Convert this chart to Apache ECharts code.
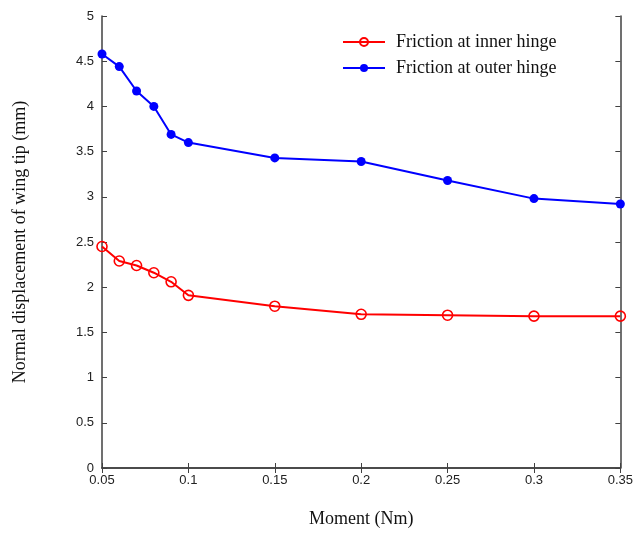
<!DOCTYPE html>
<html>
<head>
<meta charset="utf-8">
<script src="https://cdn.jsdelivr.net/npm/echarts@6/dist/echarts.min.js"></script>
<style>
  html, body { margin: 0; padding: 0; background: #fff; }
  #main { width: 636px; height: 534px; }
</style>
</head>
<body>
<div id="main"></div>
<script>
// 数据
var moments = [0.05, 0.06, 0.07, 0.08, 0.09, 0.1, 0.15, 0.2, 0.25, 0.3, 0.35];
var innerHinge = [2.45, 2.29, 2.24, 2.16, 2.06, 1.91, 1.79, 1.70, 1.69, 1.68, 1.68];
var outerHinge = [4.58, 4.44, 4.17, 4.00, 3.69, 3.60, 3.43, 3.39, 3.18, 2.98, 2.92];
var xTickLabels = ['0.05', '0.1', '0.15', '0.2', '0.25', '0.3', '0.35'];
var yTickLabels = ['0', '0.5', '1', '1.5', '2', '2.5', '3', '3.5', '4', '4.5', '5'];

function pairs(xs, ys) {
  return xs.map(function (x, i) { return [x, ys[i]]; });
}

var axisColor = '#404040';
var tickFont = { color: '#222', fontFamily: 'Liberation Sans', fontSize: 13 };
var serif = 'Liberation Serif';

var myChart = echarts.init(document.getElementById('main'));
myChart.setOption({
  animation: false,
  grid: { left: 102, right: 13, top: 16, bottom: 66 },
  legend: {
    orient: 'vertical',
    left: 337,
    top: 28,
    itemWidth: 42,
    itemHeight: 10,
    itemGap: 8,
    textStyle: { fontFamily: serif, fontSize: 18, color: '#111', padding: [0, 0, 0, 6] },
    data: ['Friction at inner hinge', 'Friction at outer hinge']
  },
  xAxis: [{
    type: 'value',
    min: 0.05,
    max: 0.35,
    interval: 0.05,
    name: 'Moment (Nm)',
    nameLocation: 'middle',
    nameGap: 42,
    nameTextStyle: { fontFamily: serif, fontSize: 18, color: '#111' },
    axisLine: { show: true, lineStyle: { color: axisColor, width: 1.5 } },
    axisTick: { show: true, inside: true, length: 5, lineStyle: { color: axisColor } },
    axisLabel: Object.assign({ margin: 6, formatter: function (v) {
      return xTickLabels[Math.round((v - 0.05) / 0.05)];
    } }, tickFont),
    splitLine: { show: false }
  }, {
    type: 'value',
    position: 'top',
    min: 0.05,
    max: 0.35,
    interval: 0.05,
    axisLine: { show: true, lineStyle: { color: axisColor, width: 1.5 } },
    axisTick: { show: true, inside: true, length: 5, lineStyle: { color: axisColor } },
    axisLabel: { show: false },
    splitLine: { show: false }
  }],
  yAxis: [{
    type: 'value',
    min: 0,
    max: 5,
    interval: 0.5,
    name: 'Normal displacement of wing tip (mm)',
    nameLocation: 'middle',
    nameGap: 73,
    nameTextStyle: { fontFamily: serif, fontSize: 18, color: '#111' },
    axisLine: { show: true, lineStyle: { color: axisColor, width: 1.5 } },
    axisTick: { show: true, inside: true, length: 5, lineStyle: { color: axisColor } },
    axisLabel: Object.assign({ margin: 8, formatter: function (v) {
      return yTickLabels[Math.round(v / 0.5)];
    } }, tickFont),
    splitLine: { show: false }
  }, {
    type: 'value',
    position: 'right',
    min: 0,
    max: 5,
    interval: 0.5,
    axisLine: { show: true, lineStyle: { color: axisColor, width: 1.5 } },
    axisTick: { show: true, inside: true, length: 5, lineStyle: { color: axisColor } },
    axisLabel: { show: false },
    splitLine: { show: false }
  }],
  series: [{
    name: 'Friction at inner hinge',
    type: 'line',
    data: pairs(moments, innerHinge),
    color: '#ff0000',
    symbol: 'circle',
    symbolSize: 10,
    lineStyle: { width: 2, color: '#ff0000' },
    itemStyle: { color: 'rgba(255,255,255,0)', borderColor: '#ff0000', borderWidth: 1.6 }
  }, {
    name: 'Friction at outer hinge',
    type: 'line',
    data: pairs(moments, outerHinge),
    color: '#0000ff',
    symbol: 'circle',
    symbolSize: 9,
    lineStyle: { width: 2, color: '#0000ff' },
    itemStyle: { color: '#0000ff' }
  }]
});
</script>
</body>
</html>
